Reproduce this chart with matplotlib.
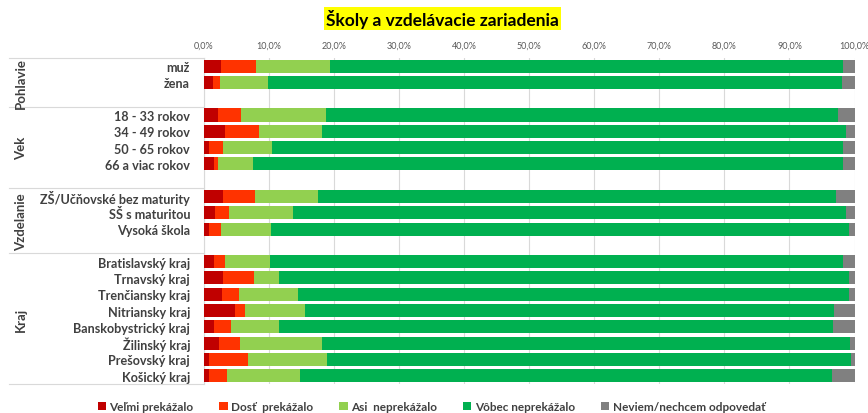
import numpy as np
import matplotlib.pyplot as plt
from matplotlib.patches import Patch

plt.rcParams['font.family'] = ['Lato', 'DejaVu Sans']

# categories (None = blank spacer row)
categories = ['muž', 'žena', None,
              '18 - 33 rokov', '34 - 49 rokov', '50 - 65 rokov', '66 a viac rokov', None,
              'ZŠ/Učňovské bez maturity', 'SŠ s maturitou', 'Vysoká škola', None,
              'Bratislavský kraj', 'Trnavský kraj', 'Trenčiansky kraj', 'Nitriansky kraj',
              'Banskobystrický kraj', 'Žilinský kraj', 'Prešovský kraj', 'Košický kraj']
groups = ['Pohlavie', 'Vek', 'Vzdelanie', 'Kraj']
group_bounds = [(-0.5, 2.5), (2.5, 7.5), (7.5, 11.5), (11.5, 19.5)]

series_names = ['Veľmi prekážalo', 'Dosť  prekážalo', 'Asi  neprekážalo',
                'Vôbec neprekážalo', 'Neviem/nechcem odpovedať']
colors = ['#C00000', '#FF3300', '#92D050', '#00B050', '#808080']

velmi = [2.6, 1.4, None, 2.2, 3.2, 0.7, 1.6, None, 2.9, 1.7, 0.8, None,
         1.6, 2.9, 2.7, 4.7, 1.6, 2.3, 0.7, 0.7]
dost = [5.4, 1.1, None, 3.5, 5.2, 2.2, 0.6, None, 5.0, 2.1, 1.8, None,
        1.7, 4.8, 2.7, 1.6, 2.6, 3.2, 6.1, 2.8]
asi = [11.4, 7.3, None, 13.0, 9.8, 7.5, 5.3, None, 9.6, 9.9, 7.7, None,
       6.8, 3.8, 9.0, 9.3, 7.3, 12.6, 12.1, 11.3]
vobec = [78.8, 88.3, None, 78.7, 80.5, 87.8, 90.8, None, 79.6, 85.0, 88.9, None,
         88.2, 87.7, 84.8, 81.3, 85.2, 81.2, 80.6, 81.8]
neviem = [1.8, 1.9, None, 2.6, 1.3, 1.8, 1.7, None, 2.9, 1.3, 0.8, None,
          1.7, 0.8, 0.8, 3.1, 3.3, 0.7, 0.5, 3.4]

fig = plt.figure(figsize=(8.68, 4.14), dpi=100)
ax = fig.add_axes([0.235, 0.0705, 0.7495, 0.787])

rows = [i for i, c in enumerate(categories) if c is not None]
left = np.zeros(len(rows))
for vals, col in zip([velmi, dost, asi, vobec, neviem], colors):
    v = np.array([vals[i] for i in rows])
    ax.barh(rows, v, left=left, height=0.8, color=col, zorder=3)
    left += v

ax.set_xlim(0, 100)
ax.set_ylim(len(categories) - 0.5, -0.5)
ax.xaxis.tick_top()
ax.set_xticks(np.arange(0, 101, 10))
ax.set_xticklabels([f'{t:.1f}%'.replace('.', ',') for t in range(0, 101, 10)],
                   fontsize=6.5, color='#595959')
ax.tick_params(axis='x', length=0, pad=6)
ax.set_yticks(rows)
ax.set_yticklabels([categories[i] for i in rows], fontsize=9.1,
                   fontweight='bold', color='#404040')
ax.tick_params(axis='y', length=0, pad=10)
ax.grid(axis='x', color='#D9D9D9', linewidth=0.8, zorder=0)
for s in ['top', 'right', 'bottom']:
    ax.spines[s].set_visible(False)
ax.spines['left'].set_color('#D9D9D9')

# group separators and labels
trans = ax.get_yaxis_transform()
for name, (y0, y1) in zip(groups, group_bounds):
    ax.plot([-0.3, 0], [y0, y0], transform=trans, color='#D9D9D9',
            linewidth=0.8, clip_on=False)
    ax.text(-0.281, (y0 + y1) / 2, name, transform=trans, rotation=90,
            ha='center', va='center', fontsize=9.5, fontweight='bold', color='#404040')
ax.plot([-0.3, 0], [19.5, 19.5], transform=trans, color='#D9D9D9',
        linewidth=0.8, clip_on=False)

fig.text(0.51, 0.952, 'Školy a vzdelávacie zariadenia', ha='center', va='center',
         fontsize=12.5, fontweight='bold', color='black',
         bbox=dict(facecolor='#FFFF00', edgecolor='none', pad=1.5))

handles = [Patch(facecolor=c, edgecolor='none') for c in colors]
fig.legend(handles, series_names, loc='center', bbox_to_anchor=(0.497, 0.016),
           ncol=5, frameon=False, handlelength=0.7, handleheight=0.7,
           handletextpad=0.3, columnspacing=2.2,
           prop={'size': 8.5, 'weight': 'bold'}, labelcolor='#404040')

fig.savefig('out.png', dpi=100)
